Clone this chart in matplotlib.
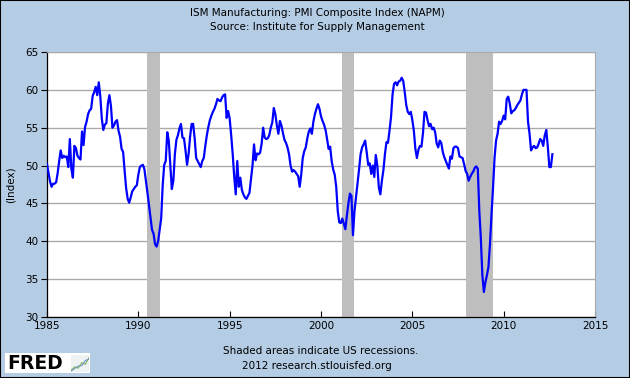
import numpy as np
import matplotlib
matplotlib.use('Agg')
from matplotlib import pyplot as plt
from matplotlib.patches import Rectangle

# ISM PMI, monthly, Jan 1985 - Sep 2012
pmi_1985_89 = [50.2, 49.0, 47.9, 47.2, 47.6, 47.6, 47.8, 49.0, 50.6, 52.0, 51.0, 51.3,
               51.1, 51.2, 49.8, 53.5, 49.6, 48.4, 52.6, 52.3, 51.3, 51.0, 50.8, 54.5,
               52.7, 55.1, 55.8, 56.8, 57.3, 57.5, 59.2, 59.7, 60.4, 59.3, 61.0, 59.2,
               56.2, 54.7, 55.4, 55.6, 58.2, 59.3, 57.9, 55.0, 55.3, 55.8, 56.0, 54.6,
               53.8, 52.2, 51.8, 49.3, 47.0, 45.6, 45.1, 45.8, 46.6, 46.9, 47.2, 47.4]
pmi_1990_94 = [48.8, 49.8, 50.0, 50.1, 49.5, 48.0, 46.4, 44.8, 43.2, 41.5, 41.0, 39.6,
               39.3, 40.0, 41.5, 43.0, 47.4, 50.1, 50.6, 54.4, 53.3, 50.0, 46.9, 48.0,
               51.5, 53.4, 54.0, 54.9, 55.5, 53.7, 53.6, 52.0, 50.1, 51.5, 53.8, 55.5,
               55.5, 53.6, 51.0, 50.6, 50.2, 49.8, 50.6, 51.0, 52.6, 54.0, 55.1, 56.0,
               56.6, 57.1, 57.5, 58.1, 58.8, 58.6, 58.5, 59.0, 59.3, 59.4, 56.3, 57.2]
pmi_1995_99 = [56.2, 54.0, 51.5, 48.5, 46.2, 50.6, 47.2, 48.4, 46.8, 46.2, 45.8, 45.6,
               46.0, 46.4, 48.2, 50.0, 52.8, 50.7, 51.6, 51.5, 51.7, 52.9, 55.0, 53.7,
               53.5, 53.6, 54.0, 55.0, 55.7, 57.6, 56.8, 55.3, 54.2, 55.9, 55.3, 54.3,
               53.4, 53.0, 52.4, 51.5, 50.0, 49.2, 49.4, 49.2, 48.9, 48.6, 47.2, 48.8,
               51.0, 51.9, 52.4, 53.6, 54.5, 54.9, 54.2, 55.8, 56.8, 57.5, 58.1, 57.5]
pmi_2000_04 = [56.5, 55.9, 55.4, 54.7, 53.5, 52.2, 52.5, 50.6, 49.5, 48.8, 47.2, 44.0,
               42.5, 42.4, 43.0, 42.3, 41.6, 43.4, 45.0, 46.3, 46.0, 40.8, 44.0, 45.8,
               47.5, 49.5, 51.5, 52.4, 52.8, 53.3, 51.8, 50.1, 50.3, 48.9, 50.0, 48.5,
               51.4, 50.0, 47.1, 46.2, 48.0, 49.4, 51.5, 53.1, 53.0, 54.6, 56.4, 59.4,
               60.8, 61.0, 60.6, 61.1, 61.2, 61.6, 61.2, 59.7, 58.0, 57.1, 56.8, 57.1]
pmi_2005_09 = [56.0, 54.6, 52.2, 51.0, 52.1, 52.6, 52.5, 54.3, 57.1, 57.0, 56.0, 55.2,
               55.5, 54.8, 55.0, 54.4, 52.9, 52.4, 53.3, 53.0, 51.8, 51.1, 50.6, 50.1,
               49.6, 51.2, 50.9, 52.3, 52.5, 52.5, 52.3, 51.2, 51.1, 51.0, 50.2, 49.3,
               48.9, 48.0, 48.5, 48.9, 49.2, 49.7, 49.9, 49.6, 44.0, 40.4, 35.5, 33.3,
               34.6, 35.5, 36.6, 39.6, 43.5, 47.0, 51.0, 53.3, 54.2, 55.8, 55.5, 55.9]
pmi_2010_12 = [56.6, 56.1, 58.8, 59.1, 58.2, 56.9, 57.2, 57.3, 57.6, 58.0, 58.3, 58.6,
               59.4, 60.0, 60.0, 60.0, 55.8, 54.2, 52.0, 52.4, 52.6, 52.3, 52.4, 52.9,
               53.5, 53.3, 52.6, 54.0, 54.7, 52.5, 49.8, 49.8, 51.5]

# US recessions (NBER), as decimal years
rec_start = [1990.5, 2001 + 2/12, 2007 + 11/12]
rec_end = [1991 + 2/12, 2001 + 10/12, 2009 + 5/12]

x_ticks = [1985, 1990, 1995, 2000, 2005, 2010, 2015]
y_ticks = [30, 35, 40, 45, 50, 55, 60, 65]

# little chart in the FRED logo
logo_green = [0.4, 1.2, 0.9, 2.2, 1.8, 3.4]
logo_blue = [0.2, 0.8, 1.4, 1.5, 2.7, 3.0]

pmi = np.array(pmi_1985_89 + pmi_1990_94 + pmi_1995_99 + pmi_2000_04 + pmi_2005_09 + pmi_2010_12)
t = 1985 + np.arange(len(pmi)) / 12.0

bg = '#b4cce4'
plt.rcParams['font.family'] = 'DejaVu Sans'
plt.rcParams['font.size'] = 7.5

fig = plt.figure(figsize=(6.3, 3.78), dpi=100, facecolor=bg)
ax = fig.add_axes([47/630, 1 - 317/378, 548/630, 265/378])
ax.set_facecolor('white')

# recession bars
for a, b in zip(rec_start, rec_end):
    ax.axvspan(a, b, color='#bebebe', lw=0, zorder=1)

ax.plot(t, pmi, color='#0000ff', lw=1.6, zorder=3)

ax.set_xlim(1985, 2015)
ax.set_ylim(30, 65)
ax.set_xticks(x_ticks)
ax.set_yticks(y_ticks)
ax.yaxis.grid(True, color='#aaaaaa', lw=1.0, zorder=0)
ax.set_axisbelow(True)
ax.tick_params(axis='x', direction='in', length=4, width=0.8, pad=3)
ax.tick_params(axis='y', direction='out', length=4, width=0.8, pad=2)
for s in ['top', 'right']:
    ax.spines[s].set_color('#aaaaaa')
    ax.spines[s].set_linewidth(0.8)
for s in ['left', 'bottom']:
    ax.spines[s].set_linewidth(0.9)
ax.set_ylabel('(Index)', labelpad=7)

# titles and footer
fig.text(0.503, 1 - 13/378, 'ISM Manufacturing: PMI Composite Index (NAPM)', ha='center', va='center')
fig.text(0.503, 1 - 27/378, 'Source: Institute for Supply Management', ha='center', va='center')
fig.text(0.509, 1 - 351/378, 'Shaded areas indicate US recessions.', ha='center', va='center')
fig.text(0.503, 1 - 366/378, '2012 research.stlouisfed.org', ha='center', va='center')

# FRED logo box
box = Rectangle((5/630, 1 - 373/378), 85/630, 20/378, transform=fig.transFigure,
                facecolor='white', edgecolor='none', zorder=0)
fig.patches.append(box)
fig.text(7/630, 1 - 363.5/378, 'FRED', fontsize=13.5, fontweight='heavy', ha='left', va='center')
logo = fig.add_axes([71/630, 1 - 372/378, 18/630, 17/378], zorder=5)
logo.set_facecolor('#eef2f2')
logo.plot(logo_green, color='#7fb35a', lw=0.8)
logo.plot(logo_blue, color='#6c94c8', lw=0.8)
logo.set_xlim(0, 5)
logo.set_ylim(0, 4)
logo.set_xticks([])
logo.set_yticks([])
for s in logo.spines.values():
    s.set_visible(False)

# outer border
fig.patches.append(Rectangle((0, 0), 1, 1, transform=fig.transFigure, fill=False,
                             edgecolor='black', lw=1.5))

fig.savefig('out.png', dpi=100, facecolor=bg)
